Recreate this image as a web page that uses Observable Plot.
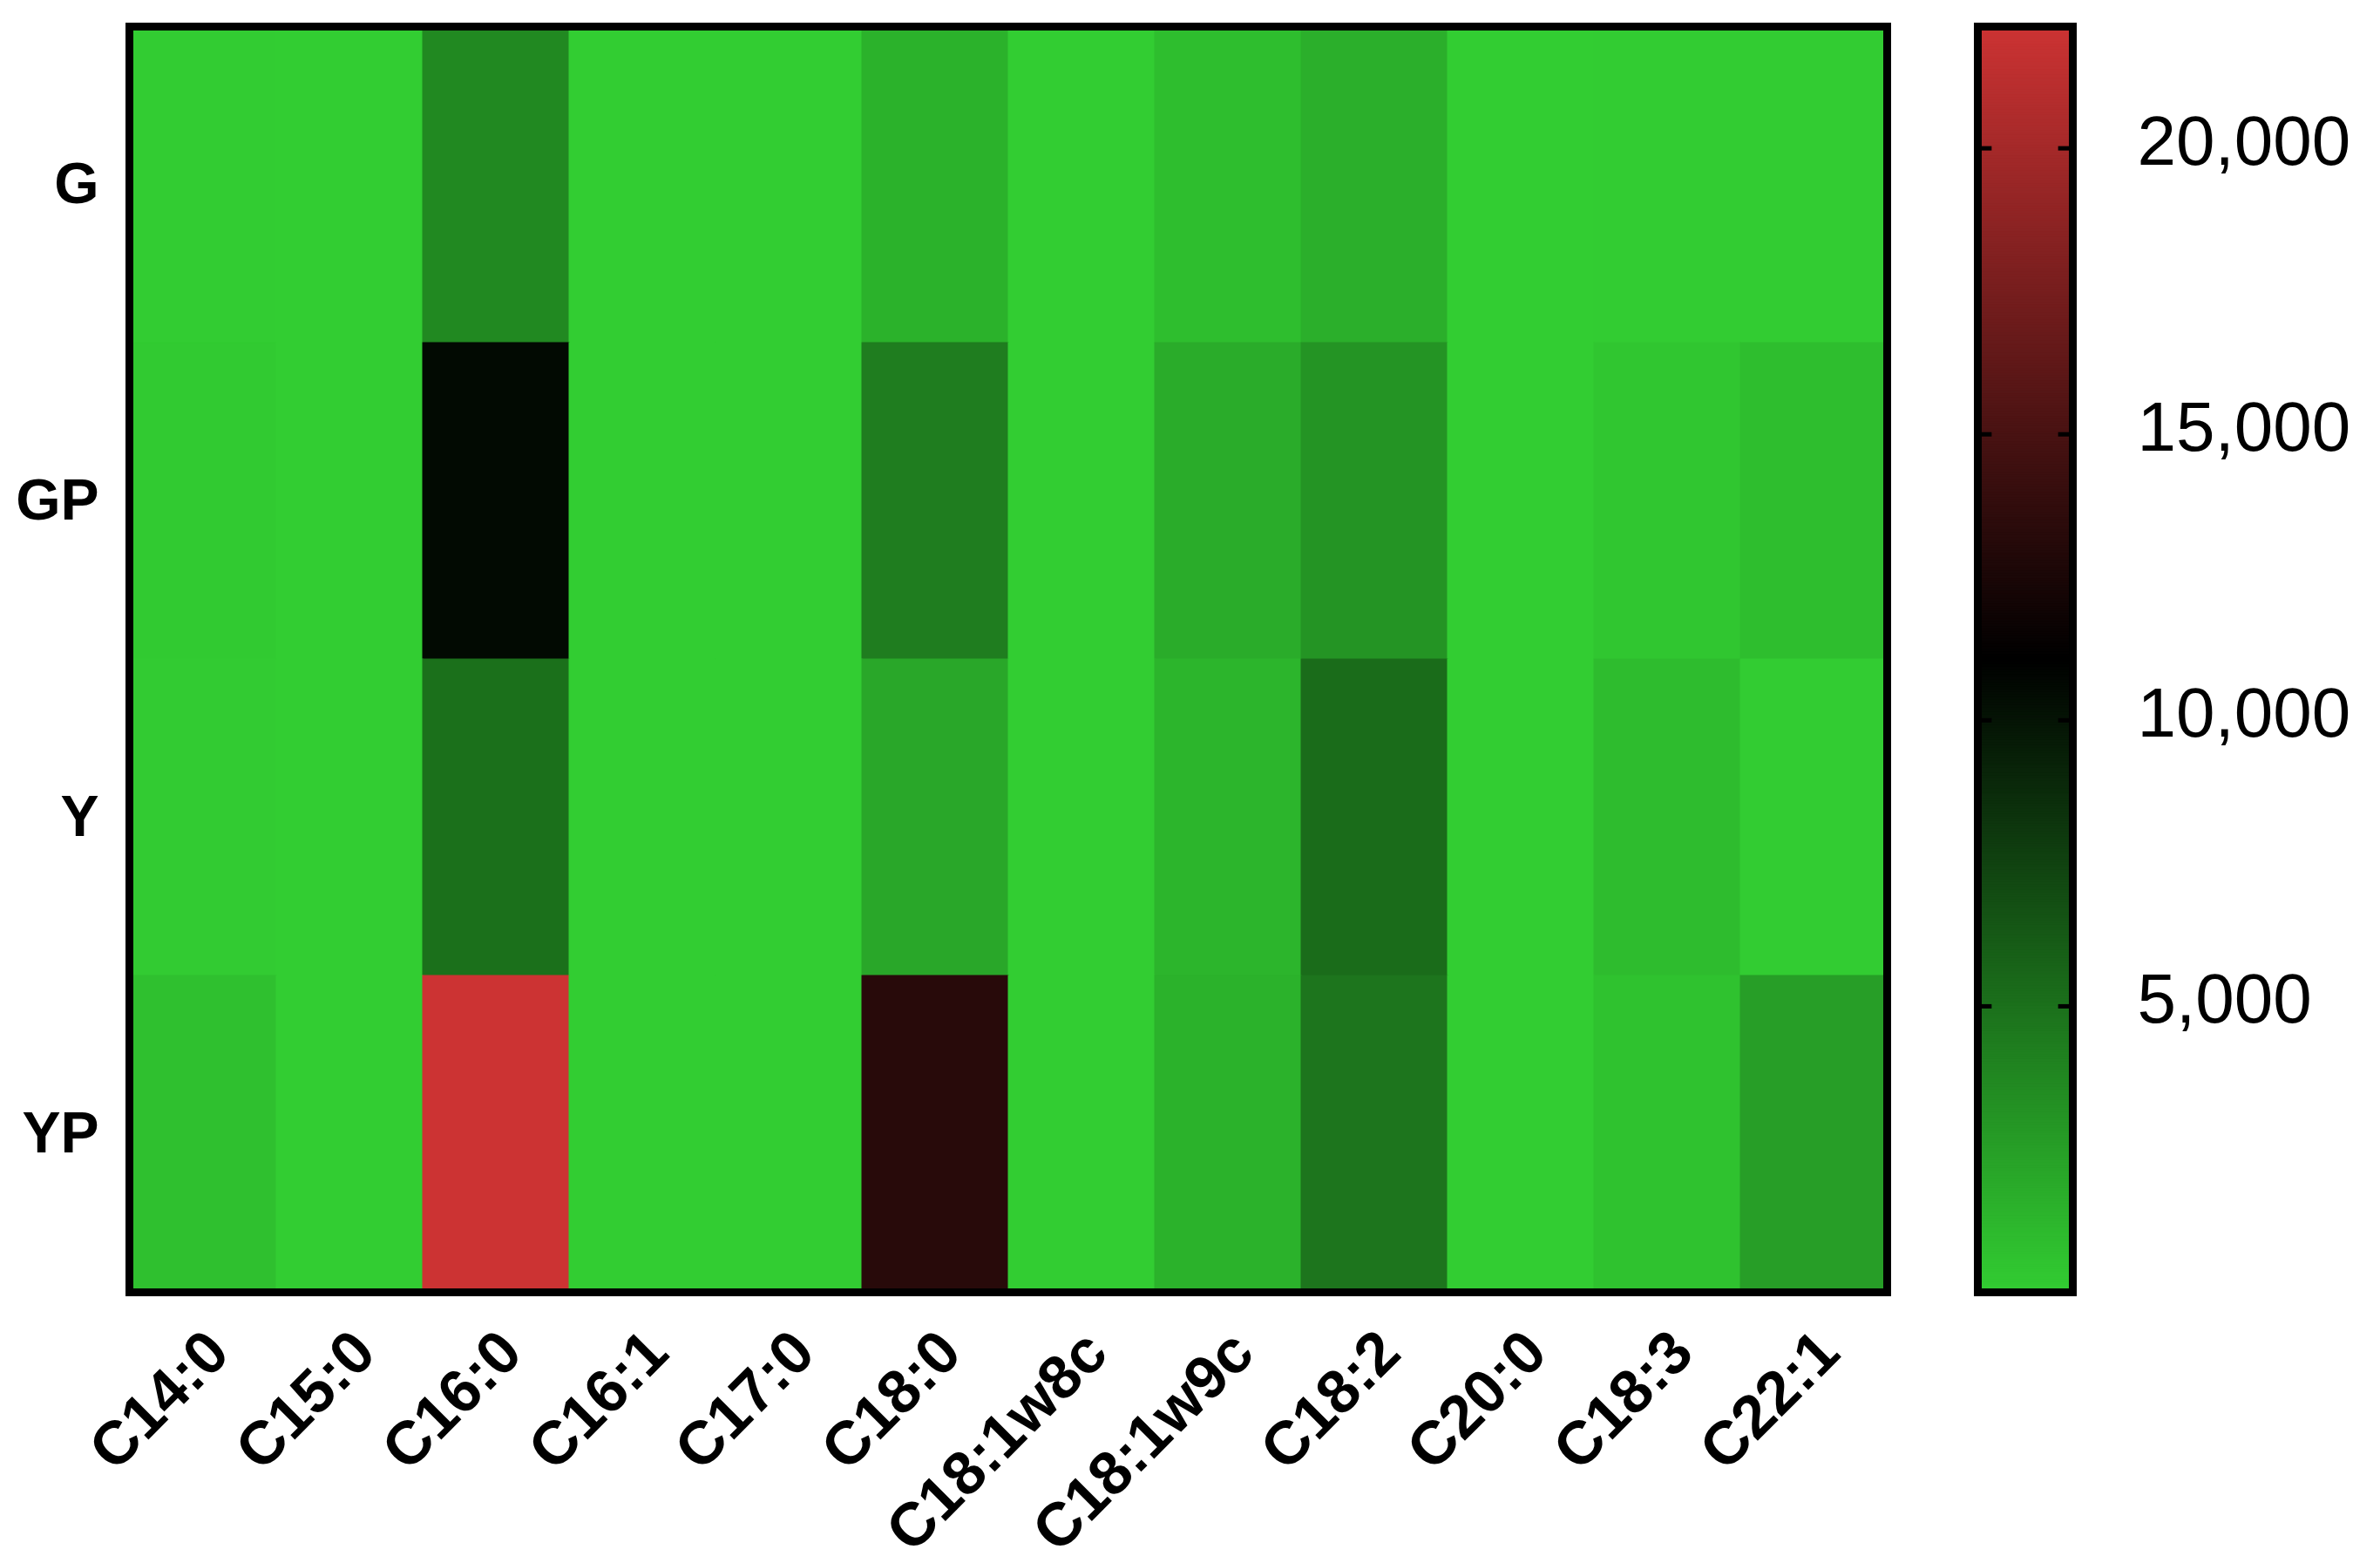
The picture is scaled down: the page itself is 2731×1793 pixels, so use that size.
<!DOCTYPE html>
<html><head><meta charset="utf-8">
<script src="https://cdn.jsdelivr.net/npm/d3@7"></script>
<script src="https://cdn.jsdelivr.net/npm/@observablehq/plot@0.6"></script>
<style>
html,body{margin:0;padding:0;background:#fff;}
#wrap{position:relative;width:2731px;height:1793px;overflow:hidden;}
#heat,#bar{position:absolute;top:0;}
#heat{left:0px;}
#bar{left:2200px;}
svg{max-width:none !important;}
</style></head><body>
<div id="wrap"><div id="heat"></div><div id="bar"></div></div>
<script>
// Categories
const acids = ["C14:0","C15:0","C16:0","C16:1","C17:0","C18:0","C18:1w8c","C18:1w9c","C18:2","C20:0","C18:3","C22:1"];
const groups = ["G","GP","Y","YP"];
// Series values (one array per row, in the order of acids)
const valuesG  = [60, 0, 3670, 0, 0, 1450, 0, 800, 1600, 0, 60, 60];
const valuesGP = [150, 0, 10520, 0, 0, 4300, 0, 1780, 3080, 0, 380, 800];
const valuesY  = [100, 0, 5020, 0, 0, 2050, 0, 1300, 5240, 0, 920, 50];
const valuesYP = [700, 0, 22128, 0, 0, 13230, 0, 1450, 4750, 0, 600, 2540];
// Colour bar tick labels and range
const colorTicks = [5000, 10000, 15000, 20000];
const colorMin = 0;
const colorMax = 22128;

const rows = [valuesG, valuesGP, valuesY, valuesYP];
const cells = groups.flatMap((g, i) => acids.map((a, j) => ({group: g, acid: a, value: rows[i][j]})));

const toBlack = d3.interpolateRgb("#32cd32", "#000000");
const toRed = d3.interpolateRgb("#000000", "#cc3333");
const interp = t => t < 0.5 ? toBlack(t * 2) : toRed(t * 2 - 1);
const colorScale = () => ({type: "linear", domain: [colorMin, colorMax], interpolate: interp});

const font = "'Liberation Sans', Arial, Helvetica, sans-serif";

const heat = Plot.plot({
  width: 2731, height: 1793,
  marginLeft: 148, marginRight: 566, marginTop: 30, marginBottom: 311,
  style: {fontFamily: font, background: "white", color: "black"},
  x: {domain: acids, padding: 0, label: null},
  y: {domain: groups, padding: 0, label: null},
  color: colorScale(),
  marks: [
    Plot.cell(cells, {x: "acid", y: "group", fill: "value", stroke: "value", strokeWidth: 1}),
    Plot.frame({stroke: "black", strokeWidth: 9}),
    Plot.axisX({tickSize: 0, tickRotate: -45, tickPadding: 57, dx: 17, fontSize: 70, fontWeight: "bold", label: null}),
    Plot.axisY({tickSize: 0, tickPadding: 35, fontSize: 66, fontWeight: "bold", label: null})
  ]
});
document.getElementById("heat").appendChild(heat);

const step = (colorMax - colorMin) / 500;
const stripes = d3.range(colorMin, colorMax, step);
const bar = Plot.plot({
  width: 531, height: 1793,
  marginLeft: 69, marginRight: 353, marginTop: 30, marginBottom: 311,
  style: {fontFamily: font, background: "white", color: "black"},
  x: {domain: [0, 1], axis: null},
  y: {domain: [colorMin, colorMax], label: null},
  color: colorScale(),
  marks: [
    Plot.rect(stripes, {x1: 0, x2: 1, y1: d => d, y2: d => Math.min(colorMax, d + step * 1.6), fill: d => d + step / 2}),
    Plot.ruleY(colorTicks, {x1: 0, x2: 0.15, stroke: "black", strokeWidth: 5}),
    Plot.ruleY(colorTicks, {x1: 0.85, x2: 1, stroke: "black", strokeWidth: 5}),
    Plot.frame({stroke: "black", strokeWidth: 9}),
    Plot.axisY(colorTicks, {anchor: "right", tickSize: 0, tickPadding: 74, dy: -7, fontSize: 80, tickFormat: d => d.toLocaleString("en-US"), label: null})
  ]
});
document.getElementById("bar").appendChild(bar);
</script>
</body></html>
